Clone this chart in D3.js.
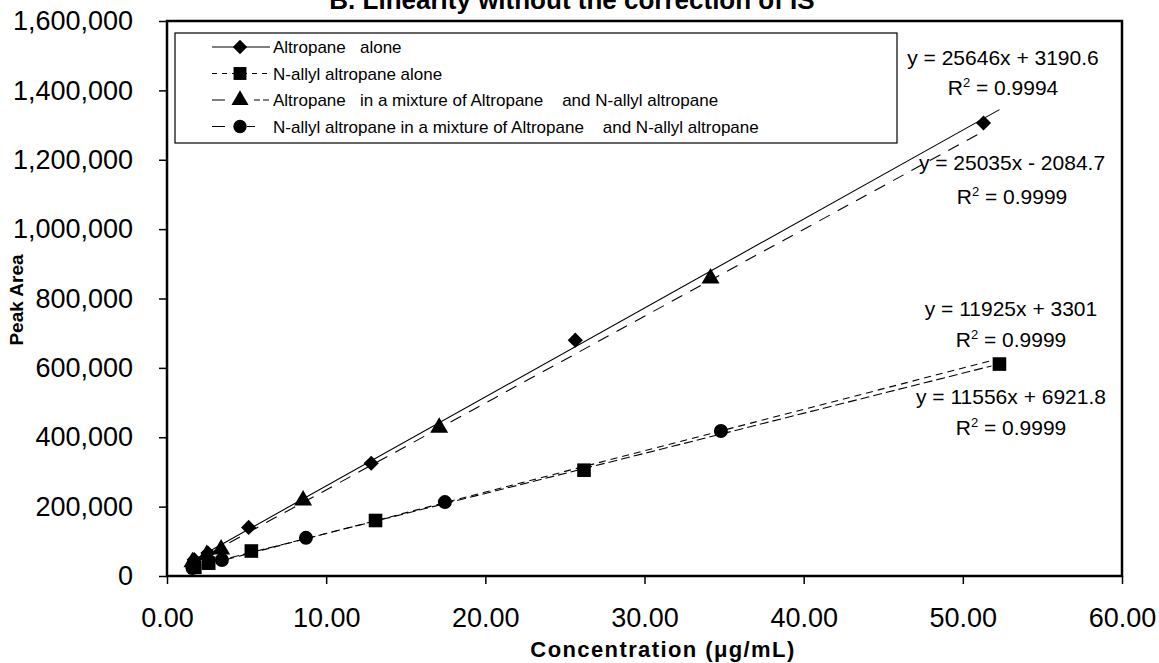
<!DOCTYPE html>
<html>
<head>
<meta charset="utf-8">
<script src="https://cdn.jsdelivr.net/npm/d3@7"></script>
<style>
  body { margin: 0; background: #fff; }
  svg { display: block; }
  text { font-family: Arial, "Liberation Sans", sans-serif; fill: #000; }
</style>
</head>
<body>
<script>
// Concentrations (ug/mL) and peak areas
var altroAloneX = [1.71, 2.57, 5.13, 12.83, 25.65, 51.3];
var altroAloneY = [47000, 66000, 140000, 325000, 680000, 1306000];

var allylAloneX = [1.75, 2.62, 5.3, 13.1, 26.2, 52.3];
var allylAloneY = [25000, 37000, 72000, 160000, 305000, 611000];

var altroMixX = [1.6, 2.5, 3.4, 8.55, 17.1, 34.15];
var altroMixY = [40000, 61000, 77000, 218000, 428000, 858000];

var allylMixX = [1.6, 3.45, 8.73, 17.46, 34.8];
var allylMixY = [23000, 46000, 110000, 213000, 418000];

// trendline equations shown on the chart: slope, intercept, R2
var slopes = [25646, 11925, 25035, 11556];
var intercepts = [3190.6, 3301, -2084.7, 6921.8];
var rSquared = ["0.9994", "0.9999", "0.9999", "0.9999"];
var trendFrom = [1.6, 1.6, 1.6, 1.6];
var trendTo = [52.3, 51.8, 51.4, 51.8];

var seriesNames = [
  "Altropane   alone",
  "N-allyl altropane alone",
  "Altropane   in a mixture of Altropane    and N-allyl altropane",
  "N-allyl altropane in a mixture of Altropane    and N-allyl altropane"
];

var yTicks = [0, 200000, 400000, 600000, 800000, 1000000, 1200000, 1400000, 1600000];
var xTicks = [0, 10, 20, 30, 40, 50, 60];

var svgWidth = 1159;
var svgHeight = 663;

var plot = { left: 167, top: 21, right: 1122, bottom: 576 };

var svg = d3.select("body")
  .append("svg")
  .attr("width", svgWidth)
  .attr("height", svgHeight);

var xScale = d3.scaleLinear().domain([0, 60]).range([plot.left, plot.right]);
var yScale = d3.scaleLinear().domain([0, 1600000]).range([plot.bottom, plot.top]);

// title, mostly cut off at the top edge as in the scan
svg.append("text")
  .attr("x", 572)
  .attr("y", 9)
  .attr("text-anchor", "middle")
  .style("font-size", "26px")
  .style("font-weight", "bold")
  .text("B. Linearity without the correction of IS");

// axes
var leftAxis = d3.axisLeft(yScale)
  .tickValues(yTicks)
  .tickSize(8)
  .tickPadding(26)
  .tickFormat(d3.format(",d"));

var bottomAxis = d3.axisBottom(xScale)
  .tickValues(xTicks)
  .tickSize(8)
  .tickPadding(24)
  .tickFormat(d3.format(".2f"));

var yAxisG = svg.append("g")
  .attr("transform", `translate(${plot.left},0)`)
  .call(leftAxis);

var xAxisG = svg.append("g")
  .attr("transform", `translate(0,${plot.bottom})`)
  .call(bottomAxis);

[yAxisG, xAxisG].forEach(function(g) {
  g.select(".domain").remove();
  g.selectAll("line").attr("stroke", "#000").attr("stroke-width", 1.5);
  g.selectAll("text")
    .style("font-size", "27px")
    .style("font-family", "Arial, 'Liberation Sans', sans-serif")
    .attr("fill", "#000");
});

// plot frame
svg.append("rect")
  .attr("x", plot.left)
  .attr("y", plot.top)
  .attr("width", plot.right - plot.left)
  .attr("height", plot.bottom - plot.top)
  .attr("fill", "none")
  .attr("stroke", "#000")
  .attr("stroke-width", 2.5);

// axis titles
svg.append("text")
  .attr("transform", "translate(23,300) rotate(-90)")
  .attr("text-anchor", "middle")
  .style("font-size", "19px")
  .style("font-weight", "bold")
  .text("Peak Area");

svg.append("text")
  .attr("x", 663)
  .attr("y", 657)
  .attr("text-anchor", "middle")
  .style("font-size", "22px")
  .style("font-weight", "bold")
  .style("letter-spacing", "1.4px")
  .text("Concentration (\u03bcg/mL)");

// trendlines
var dashes = [null, "7,5", "12,9", "9,4"];
var trendData = slopes.map(function(s, i) {
  return [trendFrom[i], trendTo[i]].map(function(x) {
    return [x, s * x + intercepts[i]];
  });
});

var line = d3.line()
  .x(d => xScale(d[0]))
  .y(d => yScale(d[1]));

svg.selectAll(".trend")
  .data(trendData)
  .enter()
  .append("path")
  .attr("class", "trend")
  .attr("d", line)
  .attr("fill", "none")
  .attr("stroke", "#000")
  .attr("stroke-width", 1.1)
  .attr("stroke-dasharray", (d, i) => dashes[i]);

// markers: diamond is a square turned 45 degrees
var symbols = [d3.symbolSquare, d3.symbolSquare, d3.symbolTriangle, d3.symbolCircle];
var symSizes = [115, 185, 140, 154];
var symRotate = [45, 0, 0, 0];
var seriesX = [altroAloneX, allylAloneX, altroMixX, allylMixX];
var seriesY = [altroAloneY, allylAloneY, altroMixY, allylMixY];

seriesX.forEach(function(xs, i) {
  var pts = xs.map((x, j) => [x, seriesY[i][j]]);
  svg.append("g")
    .selectAll("path")
    .data(pts)
    .enter()
    .append("path")
    .attr("transform", d => `translate(${xScale(d[0])},${yScale(d[1])}) rotate(${symRotate[i]})`)
    .attr("d", d3.symbol().type(symbols[i]).size(symSizes[i]))
    .attr("fill", "#000");
});

// equations
var eqPos = [[1003, 65, 95], [1011, 316, 347], [1012, 170, 204], [1011, 404, 435]];
slopes.forEach(function(s, i) {
  var b = intercepts[i];
  var eq = "y = " + s + "x " + (b < 0 ? "- " : "+ ") + Math.abs(b);
  svg.append("text")
    .attr("x", eqPos[i][0])
    .attr("y", eqPos[i][1])
    .attr("text-anchor", "middle")
    .style("font-size", "21px")
    .text(eq);
  var r = svg.append("text")
    .attr("x", eqPos[i][0])
    .attr("y", eqPos[i][2])
    .attr("text-anchor", "middle")
    .style("font-size", "21px");
  r.append("tspan").text("R");
  r.append("tspan").attr("dy", -8).style("font-size", "13px").text("2");
  r.append("tspan").attr("dy", 8).text(" = " + rSquared[i]);
});

// legend
var legend = svg.append("g");
legend.append("rect")
  .attr("x", 175)
  .attr("y", 33)
  .attr("width", 722)
  .attr("height", 110)
  .attr("fill", "#fff")
  .attr("stroke", "#000")
  .attr("stroke-width", 1.2);

var legendDash = [null, "5,5", "13,29,6,3,6", "13,22,8,40"];
seriesNames.forEach(function(name, i) {
  var cy = 47 + i * 26.5;
  legend.append("line")
    .attr("x1", 212).attr("x2", 270)
    .attr("y1", cy).attr("y2", cy)
    .attr("stroke", "#000")
    .attr("stroke-width", 1.1)
    .attr("stroke-dasharray", legendDash[i]);
  legend.append("path")
    .attr("transform", `translate(240,${cy}) rotate(${symRotate[i]})`)
    .attr("d", d3.symbol().type(symbols[i]).size(symSizes[i] * 0.9))
    .attr("fill", "#000");
  legend.append("text")
    .attr("x", 273)
    .attr("y", cy + 6)
    .style("font-size", "17px")
    .style("white-space", "pre")
    .text(name);
});
</script>
</body>
</html>
